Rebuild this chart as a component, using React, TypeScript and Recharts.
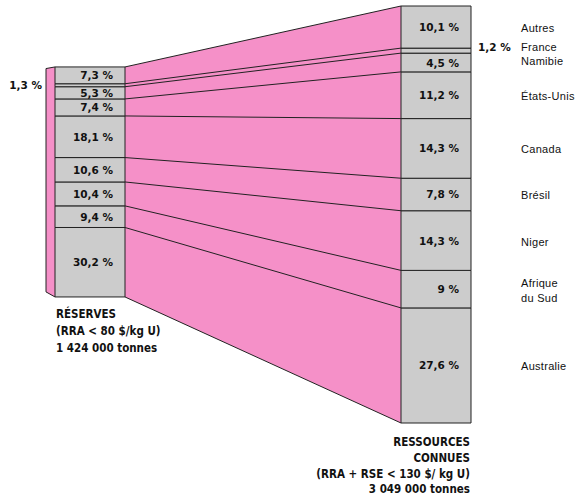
import { ComposedChart, Bar, Area, Line, XAxis, YAxis, LabelList } from "recharts";

// Répartition par pays, du haut vers le bas des deux colonnes
const countries = ["Autres", "France", "Namibie", "États-Unis", "Canada", "Brésil", "Niger", "Afrique du Sud", "Australie"];
const reserves = [7.3, 1.3, 5.3, 7.4, 18.1, 10.6, 10.4, 9.4, 30.2];
const ressources = [10.1, 1.2, 4.5, 11.2, 14.3, 7.8, 14.3, 9, 27.6];
const countryLines = [["Autres"], ["France"], ["Namibie"], ["États-Unis"], ["Canada"], ["Brésil"], ["Niger"], ["Afrique", "du Sud"], ["Australie"]];

const reservesCaption = ["RÉSERVES", "(RRA < 80 $/kg U)", "1 424 000 tonnes"];
const ressourcesCaption = ["RESSOURCES", "CONNUES", "(RRA + RSE < 130 $/ kg U)", "3 049 000 tonnes"];

const PINK = "#f590c8";
const GREY = "#cccccc";
const EDGE = "#222222";
const LABEL_FONT = "'DejaVu Sans', Verdana, sans-serif";
const CAPTION_FONT = "'DejaVu Sans Condensed', 'DejaVu Sans', sans-serif";
const NAME_FONT = "'Liberation Sans', Arial, sans-serif";

const W = 578;
const H = 497;
const MARGIN = { top: 6, right: 107, bottom: 74, left: 46 };
const X_DOMAIN: [number, number] = [0, 425];
const BAR_W = 70;
const SIDE = 9; // depth of the left column's side face
const LEFT_X = SIDE + BAR_W / 2;
const RIGHT_X = X_DOMAIN[1] - BAR_W / 2;
const RIB_L = LEFT_X + BAR_W / 2;
const RIB_R = RIGHT_X - BAR_W / 2;

// the reserves column is shorter: its own axis over the same plot height
const RES_DOMAIN: [number, number] = [-54.8, 126.5];
const CON_DOMAIN: [number, number] = [0, 100];
const resToCon = (v: number) =>
  ((v - RES_DOMAIN[0]) / (RES_DOMAIN[1] - RES_DOMAIN[0])) * (CON_DOMAIN[1] - CON_DOMAIN[0]) + CON_DOMAIN[0];

// small offsets for the crowded names at the top
const NAME_NUDGE = [1, -4, -2, 1, 1, 1, 1, 1, 1];

const pct = (v: number) => (Number.isInteger(v) ? String(v) : v.toFixed(1).replace(".", ",")) + " %";

// stacking goes bottom-up, so walk the lists in reverse
const order = countries.map((_, i) => i).reverse();
const cumulate = (vals: number[]) => {
  const out = [0];
  order.forEach((i) => out.push(out[out.length - 1] + vals[i]));
  return out;
};
const resCum = cumulate(reserves);
const conCum = cumulate(ressources);

const barRows = [
  { x: LEFT_X, ...Object.fromEntries(reserves.map((v, i) => [`res${i}`, v])) },
  { x: RIGHT_X, ...Object.fromEntries(ressources.map((v, i) => [`con${i}`, v])) },
];

const ribbon = [
  { x: RIB_L, band: [resToCon(resCum[0]), resToCon(resCum[resCum.length - 1])] },
  { x: RIB_R, band: [conCum[0], conCum[conCum.length - 1]] },
];

const sideFace = [
  { x: 0, face: [2.2, 99.3] },
  { x: SIDE, face: [0, 100] },
];
const sideEdge = [
  { x: 0, y: 2.2 },
  { x: 0, y: 99.3 },
];

const boundaries = resCum.slice(1, -1).map((r, k) => [
  { x: RIB_L, y: resToCon(r) },
  { x: RIB_R, y: conCum[k + 1] },
]);

const boxOf = (p: any) => {
  const b = p.viewBox && p.viewBox.width != null ? p.viewBox : p;
  const h = Math.abs(Number(b.height) || 0);
  const top = Math.min(Number(b.y), Number(b.y) + Number(b.height));
  return { x: Number(b.x), w: Number(b.width), top, h };
};

const segmentLabel = (v: number, side: "res" | "con", outside: boolean) => (p: any) => {
  const { x, w, top, h } = boxOf(p);
  if (!h) return null;
  const cy = top + h / 2;
  let tx = x + w - 12;
  let anchor: "end" | "start" = "end";
  let ty = cy;
  if (outside && side === "res") {
    tx = x - SIDE - 4;
  } else if (outside) {
    tx = x + w + 7;
    anchor = "start";
    ty = cy - 4;
  }
  return (
    <text x={tx} y={ty} textAnchor={anchor} dominantBaseline="central" fontFamily={LABEL_FONT} fontWeight="bold" fontSize={10.5} fill="#111">
      {pct(v)}
    </text>
  );
};

const nameLabel = (i: number) => (p: any) => {
  const { x, w, top, h } = boxOf(p);
  if (!h) return null;
  const cy = top + h / 2 + NAME_NUDGE[i];
  const lines = countryLines[i];
  return (
    <text x={x + w + 50} y={cy} fontFamily={NAME_FONT} fontSize={11} letterSpacing={0.3} fill="#111" dominantBaseline="central">
      {lines.map((t, j) => (
        <tspan key={t} x={x + w + 50} y={cy + (j - (lines.length - 1) / 2) * 15}>
          {t}
        </tspan>
      ))}
    </text>
  );
};

const App = () => (
  <div style={{ width: W, height: H }}>
    <style>{"body{margin:0}"}</style>
    <ComposedChart width={W} height={H} data={barRows} margin={MARGIN}>
      {/* bars sit on their own x axis so the band width only sees the two columns */}
      <XAxis xAxisId="cols" type="number" dataKey="x" domain={X_DOMAIN} ticks={[0, 100, 200, 300, 400]} hide />
      <XAxis xAxisId="geo" type="number" dataKey="x" domain={X_DOMAIN} hide />
      <YAxis yAxisId="res" type="number" domain={RES_DOMAIN} hide />
      <YAxis yAxisId="con" type="number" domain={CON_DOMAIN} hide />

      <Area xAxisId="geo" yAxisId="con" data={ribbon} dataKey="band" type="linear" fill={PINK} fillOpacity={1} stroke={EDGE} strokeWidth={1} isAnimationActive={false} />
      <Area xAxisId="geo" yAxisId="res" data={sideFace} dataKey="face" type="linear" fill={PINK} fillOpacity={1} stroke={EDGE} strokeWidth={1} isAnimationActive={false} />
      <Line xAxisId="geo" yAxisId="res" data={sideEdge} dataKey="y" stroke={EDGE} strokeWidth={1} dot={false} isAnimationActive={false} />
      {boundaries.map((pts, k) => (
        <Line key={`b${k}`} xAxisId="geo" yAxisId="con" data={pts} dataKey="y" stroke={EDGE} strokeWidth={1} dot={false} isAnimationActive={false} />
      ))}

      {order.map((i) => (
        <Bar key={`res${i}`} xAxisId="cols" yAxisId="res" dataKey={`res${i}`} stackId="col" barSize={BAR_W} fill={GREY} stroke={EDGE} strokeWidth={1} isAnimationActive={false}>
          <LabelList content={segmentLabel(reserves[i], "res", countries[i] === "France")} />
        </Bar>
      ))}
      {order.map((i) => (
        <Bar key={`con${i}`} xAxisId="cols" yAxisId="con" dataKey={`con${i}`} stackId="col" barSize={BAR_W} fill={GREY} stroke={EDGE} strokeWidth={1} isAnimationActive={false}>
          <LabelList content={segmentLabel(ressources[i], "con", countries[i] === "France")} />
          <LabelList content={nameLabel(i)} />
        </Bar>
      ))}

      <text fontFamily={CAPTION_FONT} fontWeight="bold" fontSize={11.5} fill="#111">
        {reservesCaption.map((t, j) => (
          <tspan key={t} x={56} y={318 + j * 16.8}>
            {t}
          </tspan>
        ))}
      </text>
      <text fontFamily={CAPTION_FONT} fontWeight="bold" fontSize={11.5} fill="#111" textAnchor="end">
        {ressourcesCaption.map((t, j) => (
          <tspan key={t} x={470} y={446 + j * 15.8}>
            {t}
          </tspan>
        ))}
      </text>
    </ComposedChart>
  </div>
);

export default App;
